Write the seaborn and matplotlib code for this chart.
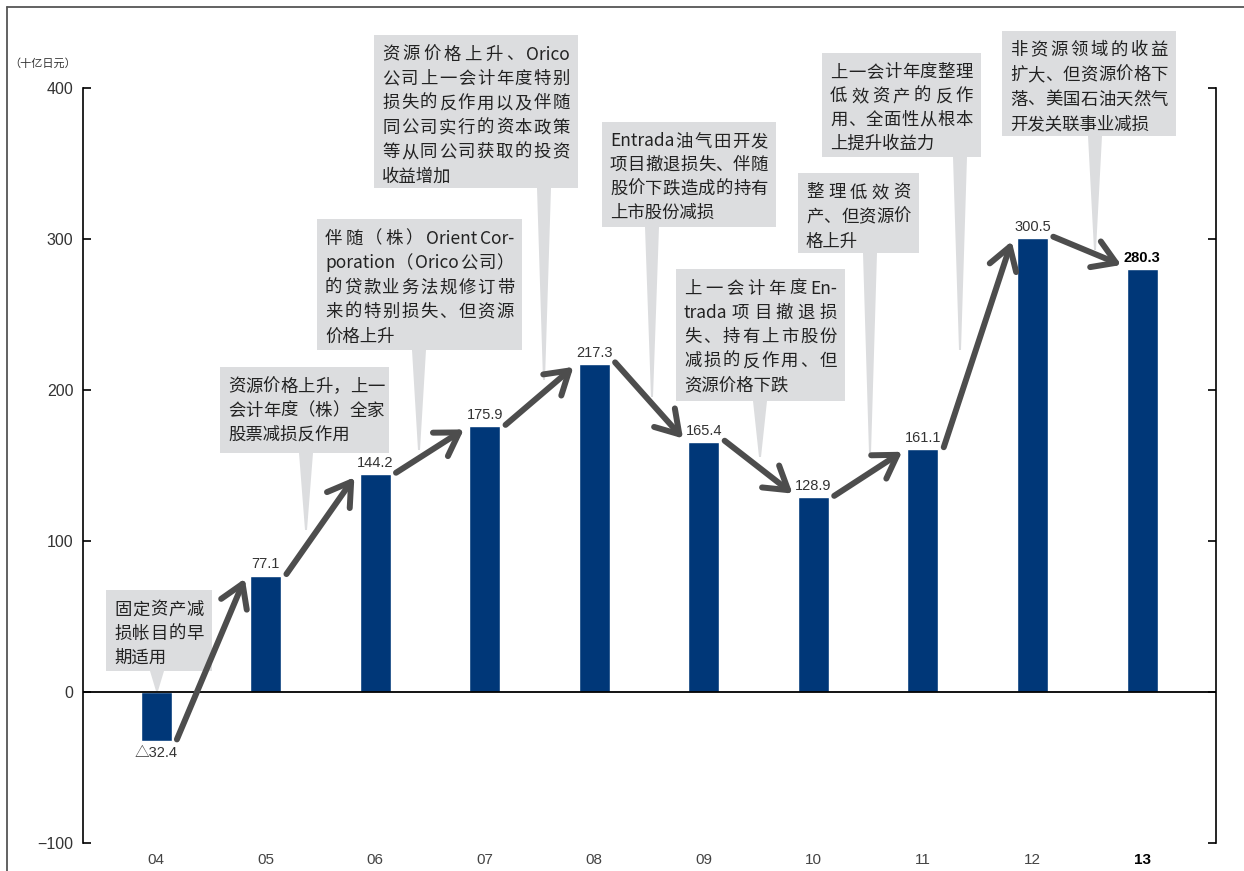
import re
import numpy as np
import matplotlib
matplotlib.use('Agg')
import matplotlib.pyplot as plt
from matplotlib.patches import Rectangle, Polygon
from matplotlib.lines import Line2D
import seaborn as sns

# 数据
years = ['04', '05', '06', '07', '08', '09', '10', '11', '12', '13']
profit = [-32.4, 77.1, 144.2, 175.9, 217.3, 165.4, 128.9, 161.1, 300.5, 280.3]
value_labels = ['△32.4', '77.1', '144.2', '175.9', '217.3', '165.4', '128.9', '161.1', '300.5', '280.3']
y_ticks = [-100, 0, 100, 200, 300, 400]
y_tick_labels = ['−100', '0', '100', '200', '300', '400']
unit_label = '（十亿日元）'

notes = [
    ['固定资产减', '损帐目的早', '期适用'],
    ['资源价格上升，上一', '会计年度（株）全家', '股票减损反作用'],
    ['伴随（株）Orient Cor-', 'poration（Orico 公司）', '的贷款业务法规修订带', '来的特别损失、但资源', '价格上升'],
    ['资源价格上升、Orico', '公司上一会计年度特别', '损失的反作用以及伴随', '同公司实行的资本政策', '等从同公司获取的投资', '收益增加'],
    ['Entrada 油气田开发', '项目撤退损失、伴随', '股价下跌造成的持有', '上市股份减损'],
    ['上一会计年度 En-', 'trada 项目撤退损', '失、持有上市股份', '减损的反作用、但', '资源价格下跌'],
    ['整理低效资', '产、但资源价', '格上升'],
    ['上一会计年度整理', '低效资产的反作', '用、全面性从根本', '上提升收益力'],
    ['非资源领域的收益', '扩大、但资源价格下', '落、美国石油天然气', '开发关联事业减损'],
]

# 版面 (像素): 左, 上, 右, 下, 指针x, 指针尖y, 行距
note_layout = [
    (106, 590, 212, 671, 157, 691, 24.0),
    (220, 367, 389, 453, 306, 530, 24.0),
    (317, 219, 522, 350, 419, 450, 24.5),
    (374, 35, 578, 188, 544, 380, 24.4),
    (602, 122, 776, 227, 652, 397, 23.7),
    (676, 269, 845, 401, 760, 457, 24.2),
    (798, 173, 919, 253, 870, 453, 24.5),
    (822, 53, 981, 157, 960, 350, 23.7),
    (1002, 31, 1176, 136, 1095, 250, 24.5),
]

W, H = 1244, 871
bar_color = '#003778'
box_color = '#dcdddf'
arrow_color = '#4d4d4d'
cjk = ['Noto Sans CJK SC', 'DejaVu Sans']
num_font = ['Liberation Sans', 'Noto Sans CJK SC', 'DejaVu Sans']

sns.set_style('white')
plt.rcParams['font.family'] = cjk

fig = plt.figure(figsize=(W / 100, H / 100), dpi=100)
ax = fig.add_axes([83 / W, 28 / H, (1216 - 83) / W, (843 - 88) / H])

sns.barplot(x=years, y=profit, order=years, color=bar_color, saturation=1,
            width=0.283, ax=ax, zorder=2)

ax.set_xlim(-0.667, 9.675)
ax.set_ylim(-100, 400)
ax.axhline(0, color='black', lw=1.3, zorder=2.5)

for s in ['top', 'bottom']:
    ax.spines[s].set_visible(False)
for s in ['left', 'right']:
    ax.spines[s].set_visible(True)
    ax.spines[s].set_color('black')
    ax.spines[s].set_linewidth(1.2)

ax.set_yticks(y_ticks)
ax.set_yticklabels(y_tick_labels, family=num_font, fontsize=11.5, color='#333333')
ax.tick_params(axis='y', which='both', direction='in', length=6, width=1.2,
               left=True, right=True, labelright=False, pad=7, color='black')
ax.tick_params(axis='x', length=0, pad=7)
ax.set_xlabel('')
ax.set_ylabel('')
for i, lab in enumerate(ax.get_xticklabels()):
    lab.set_family(num_font)
    lab.set_fontsize(11)
    if i == len(years) - 1:
        lab.set_fontweight('bold')
        lab.set_color('black')
    else:
        lab.set_color('#444444')

# 数值标签
for i, (v, t) in enumerate(zip(profit, value_labels)):
    last = i == len(profit) - 1
    if v >= 0:
        ax.annotate(t, (i, v), xytext=(0, 3), textcoords='offset points',
                    ha='center', va='bottom', family=num_font, fontsize=10.5,
                    fontweight='bold' if last else 'normal',
                    color='black' if last else '#333333', zorder=5)
    else:
        ax.annotate(t, (i, v), xytext=(0, -4), textcoords='offset points',
                    ha='center', va='top', family=num_font, fontsize=10.5,
                    color='#333333', zorder=5)

# 箭头
for i in range(len(profit) - 1):
    v0, v1 = profit[i], profit[i + 1]
    y0 = v0 + 1
    y1 = v1 - 2 if v1 > v0 else v1 + 2.5
    ax.annotate('', xy=(i + 0.81, y1), xytext=(i + 0.19, y0),
                arrowprops=dict(arrowstyle='->, head_length=0.8, head_width=0.5',
                                mutation_scale=20, lw=4.3, color=arrow_color,
                                shrinkA=0, shrinkB=0),
                zorder=4)


def fp(x, y):
    return (x / W, 1 - y / H)


tok_re = re.compile(r'[A-Za-z0-9\-]+|\S')
renderer = fig.canvas.get_renderer()
fs = 12.5

for lines, (l, t, r, b, tx, ty, lh) in zip(notes, note_layout):
    ax.add_patch(Rectangle(fp(l, b), (r - l) / W, (b - t) / H,
                           transform=fig.transFigure, facecolor=box_color,
                           edgecolor='none', clip_on=False, zorder=1))
    ax.add_patch(Polygon([fp(tx - 7, b), fp(tx + 7, b), fp(tx + 1, ty), fp(tx - 1, ty)],
                         closed=True, transform=fig.transFigure, facecolor=box_color,
                         edgecolor='none', clip_on=False, zorder=1))
    left, right = l + 8, r - 8
    for k, line in enumerate(lines):
        yb = t + 24.5 + k * lh
        if k == len(lines) - 1:
            fig.text(*fp(left, yb), line, va='baseline', ha='left', fontsize=fs,
                     color='#222222', family=cjk)
            continue
        toks = tok_re.findall(line)
        objs, ws = [], []
        for tk in toks:
            o = fig.text(0, 0, tk, va='baseline', ha='left', fontsize=fs,
                         color='#222222', family=cjk)
            objs.append(o)
            ws.append(o.get_window_extent(renderer).width)
        gap = (right - left - sum(ws)) / max(len(toks) - 1, 1)
        gap = max(gap, 0)
        x = left
        for o, w in zip(objs, ws):
            o.set_position(fp(x, yb))
            x += w + gap

# 单位
fig.text(*fp(76, 63), unit_label, ha='right', va='center', fontsize=8, color='#333333')

# 外框
fig.add_artist(Line2D([7 / W, 1], [1 - 7.5 / H, 1 - 7.5 / H], transform=fig.transFigure,
                      color='#555555', lw=1.3))
fig.add_artist(Line2D([7 / W, 7 / W], [0, 1 - 7.5 / H], transform=fig.transFigure,
                      color='#555555', lw=1.3))

plt.savefig('out.png', dpi=100)
